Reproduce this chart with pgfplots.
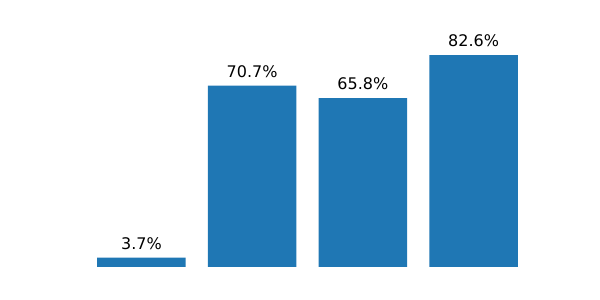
\documentclass[border=0pt]{standalone}
\usepackage{fontspec}
\setmainfont{DejaVu Sans}
\usepackage{pgfplots}
\pgfplotsset{compat=1.18}
\definecolor{tabblue}{HTML}{1F77B4}
\begin{document}
\begin{tikzpicture}
\useasboundingbox (0,0) rectangle (450pt,225pt);
\begin{axis}[
  at={(56.25pt,24.75pt)}, anchor=south west,
  scale only axis, width=348.75pt, height=173.25pt,
  hide axis, clip=false,
  xmin=-0.6, xmax=3.6, ymin=0, ymax=90,
  ybar, bar width=0.8, bar shift=0pt,
  /pgf/number format/assume math mode=true,
  nodes near coords={\pgfmathprintnumber[fixed,precision=1,fixed zerofill,assume math mode=true]{\pgfplotspointmeta}\%},
  nodes near coords style={font=\fontsize{12}{14.5}\selectfont, anchor=south, inner sep=0pt, yshift=6pt, text=black},
]
\addplot[fill=tabblue, draw=none] coordinates {(0,3.7) (1,70.7) (2,65.8) (3,82.6)};
\end{axis}
\end{tikzpicture}
\end{document}
